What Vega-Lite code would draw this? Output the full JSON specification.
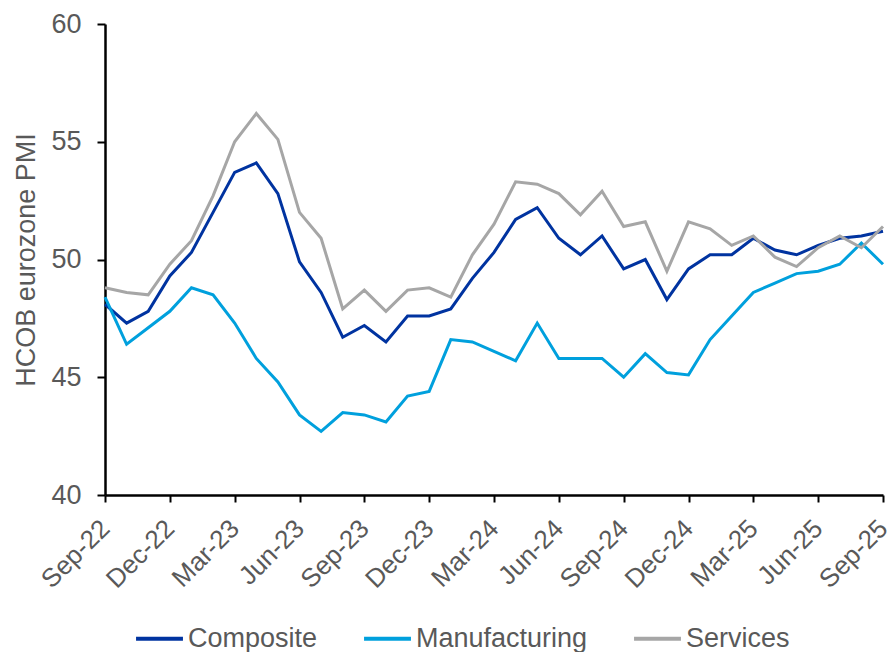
{
  "$schema": "https://vega.github.io/schema/vega-lite/v6.json",
  "width": 778,
  "height": 471,
  "autosize": {"type": "none"},
  "padding": {"left": 105, "top": 24, "right": 7, "bottom": 157},
  "config": {
    "font": "Liberation Sans",
    "view": {"stroke": null},
    "axis": {"grid": false}
  },
  "data": {
    "values": [
      {"month": "Sep-22", "Composite": 48.1, "Manufacturing": 48.4, "Services": 48.8},
      {"month": "Oct-22", "Composite": 47.3, "Manufacturing": 46.4, "Services": 48.6},
      {"month": "Nov-22", "Composite": 47.8, "Manufacturing": 47.1, "Services": 48.5},
      {"month": "Dec-22", "Composite": 49.3, "Manufacturing": 47.8, "Services": 49.8},
      {"month": "Jan-23", "Composite": 50.3, "Manufacturing": 48.8, "Services": 50.8},
      {"month": "Feb-23", "Composite": 52.0, "Manufacturing": 48.5, "Services": 52.7},
      {"month": "Mar-23", "Composite": 53.7, "Manufacturing": 47.3, "Services": 55.0},
      {"month": "Apr-23", "Composite": 54.1, "Manufacturing": 45.8, "Services": 56.2},
      {"month": "May-23", "Composite": 52.8, "Manufacturing": 44.8, "Services": 55.1},
      {"month": "Jun-23", "Composite": 49.9, "Manufacturing": 43.4, "Services": 52.0},
      {"month": "Jul-23", "Composite": 48.6, "Manufacturing": 42.7, "Services": 50.9},
      {"month": "Aug-23", "Composite": 46.7, "Manufacturing": 43.5, "Services": 47.9},
      {"month": "Sep-23", "Composite": 47.2, "Manufacturing": 43.4, "Services": 48.7},
      {"month": "Oct-23", "Composite": 46.5, "Manufacturing": 43.1, "Services": 47.8},
      {"month": "Nov-23", "Composite": 47.6, "Manufacturing": 44.2, "Services": 48.7},
      {"month": "Dec-23", "Composite": 47.6, "Manufacturing": 44.4, "Services": 48.8},
      {"month": "Jan-24", "Composite": 47.9, "Manufacturing": 46.6, "Services": 48.4},
      {"month": "Feb-24", "Composite": 49.2, "Manufacturing": 46.5, "Services": 50.2},
      {"month": "Mar-24", "Composite": 50.3, "Manufacturing": 46.1, "Services": 51.5},
      {"month": "Apr-24", "Composite": 51.7, "Manufacturing": 45.7, "Services": 53.3},
      {"month": "May-24", "Composite": 52.2, "Manufacturing": 47.3, "Services": 53.2},
      {"month": "Jun-24", "Composite": 50.9, "Manufacturing": 45.8, "Services": 52.8},
      {"month": "Jul-24", "Composite": 50.2, "Manufacturing": 45.8, "Services": 51.9},
      {"month": "Aug-24", "Composite": 51.0, "Manufacturing": 45.8, "Services": 52.9},
      {"month": "Sep-24", "Composite": 49.6, "Manufacturing": 45.0, "Services": 51.4},
      {"month": "Oct-24", "Composite": 50.0, "Manufacturing": 46.0, "Services": 51.6},
      {"month": "Nov-24", "Composite": 48.3, "Manufacturing": 45.2, "Services": 49.5},
      {"month": "Dec-24", "Composite": 49.6, "Manufacturing": 45.1, "Services": 51.6},
      {"month": "Jan-25", "Composite": 50.2, "Manufacturing": 46.6, "Services": 51.3},
      {"month": "Feb-25", "Composite": 50.2, "Manufacturing": 47.6, "Services": 50.6},
      {"month": "Mar-25", "Composite": 50.9, "Manufacturing": 48.6, "Services": 51.0},
      {"month": "Apr-25", "Composite": 50.4, "Manufacturing": 49.0, "Services": 50.1},
      {"month": "May-25", "Composite": 50.2, "Manufacturing": 49.4, "Services": 49.7},
      {"month": "Jun-25", "Composite": 50.6, "Manufacturing": 49.5, "Services": 50.5},
      {"month": "Jul-25", "Composite": 50.9, "Manufacturing": 49.8, "Services": 51.0},
      {"month": "Aug-25", "Composite": 51.0, "Manufacturing": 50.7, "Services": 50.5},
      {"month": "Sep-25", "Composite": 51.2, "Manufacturing": 49.8, "Services": 51.4}
    ]
  },
  "transform": [
    {"fold": ["Composite", "Manufacturing", "Services"], "as": ["series", "value"]}
  ],
  "mark": {"type": "line", "strokeWidth": 3},
  "encoding": {
    "x": {
      "field": "month",
      "type": "ordinal",
      "sort": null,
      "scale": {"type": "point", "padding": 0},
      "axis": {
        "title": null,
        "values": ["Sep-22", "Dec-22", "Mar-23", "Jun-23", "Sep-23", "Dec-23", "Mar-24", "Jun-24", "Sep-24", "Dec-24", "Mar-25", "Jun-25", "Sep-25"],
        "labelAngle": -45,
        "labelAlign": "right",
        "labelBaseline": "middle",
        "labelFontSize": 26,
        "labelColor": "#595959",
        "labelPadding": 22,
        "labelOverlap": false,
        "labelBound": false,
        "tickColor": "#000000",
        "tickWidth": 2,
        "tickSize": 7,
        "domainColor": "#000000",
        "domainWidth": 2.5
      }
    },
    "y": {
      "field": "value",
      "type": "quantitative",
      "scale": {"domain": [40, 60], "nice": false, "zero": false},
      "axis": {
        "title": "HCOB eurozone PMI",
        "titleFontSize": 27,
        "titleFontWeight": "normal",
        "titleColor": "#595959",
        "titlePadding": 10,
        "values": [40, 45, 50, 55, 60],
        "labelFontSize": 27,
        "labelColor": "#595959",
        "labelPadding": 16,
        "tickColor": "#000000",
        "tickWidth": 2,
        "tickSize": 8,
        "domainColor": "#000000",
        "domainWidth": 2.5
      }
    },
    "color": {
      "field": "series",
      "type": "nominal",
      "scale": {
        "domain": ["Composite", "Manufacturing", "Services"],
        "range": ["#0033A0", "#00A0DD", "#A6A6A6"]
      },
      "legend": {
        "title": null,
        "orient": "none",
        "direction": "horizontal",
        "legendX": 29,
        "legendY": 589,
        "symbolType": "stroke",
        "symbolSize": 2200,
        "symbolStrokeWidth": 4,
        "labelFontSize": 27,
        "labelLimit": 0,
        "labelColor": "#595959",
        "labelOffset": 3,
        "columnPadding": 38
      }
    }
  }
}
